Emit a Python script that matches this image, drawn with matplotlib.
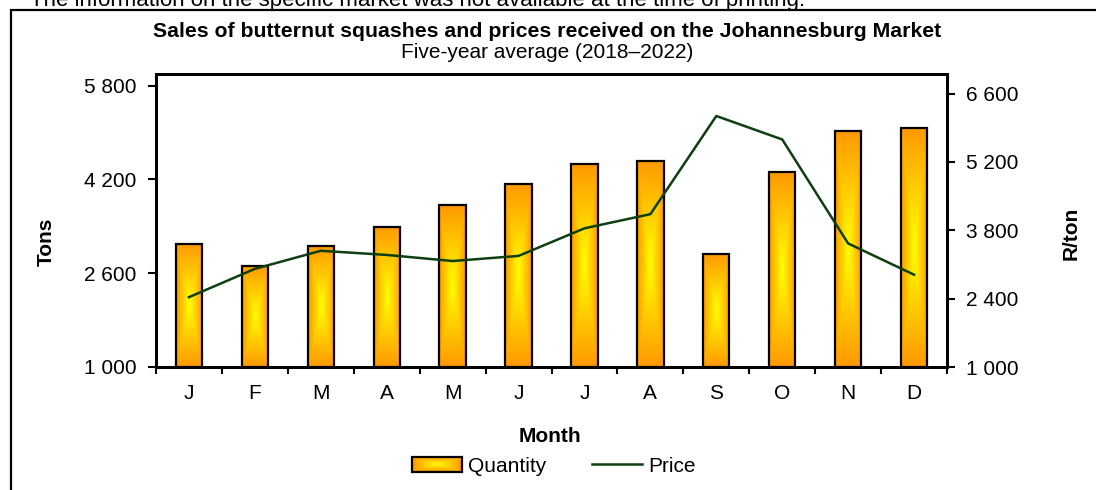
import matplotlib
matplotlib.use('Agg')
import matplotlib.pyplot as plt
import matplotlib.patches as mpatches
from matplotlib.lines import Line2D
from matplotlib.legend_handler import HandlerBase
from matplotlib.ticker import FuncFormatter
import numpy as np

plt.rcParams['font.family'] = ['Liberation Sans', 'DejaVu Sans']

months   = ['J', 'F', 'M', 'A', 'M', 'J', 'J', 'A', 'S', 'O', 'N', 'D']
quantity = [3100, 2730, 3070, 3390, 3760, 4130, 4460, 4520, 2920, 4330, 5030, 5080]
price    = [2430, 3010, 3380, 3295, 3170, 3275, 3840, 4130, 6140, 5660, 3530, 2890]

ORANGE = np.array([1.0, 0.60, 0.0])
YELLOW = np.array([1.0, 1.0, 0.0])
LINE_C = '#0E3F10'
FS = 15


def fmt_space(v, pos):
    return f'{int(round(v)):,}'.replace(',', ' ')


class GradientHandler(HandlerBase):
    # fake the "from centre" fill of the bars inside the legend key
    def create_artists(self, legend, orig_handle, xdescent, ydescent,
                       width, height, fontsize, trans):
        arts = []
        n = 14
        for k in range(n):
            f = k / n
            c = ORANGE * (1 - f) + YELLOW * f
            arts.append(mpatches.Rectangle(
                (-xdescent + f * width / 2, -ydescent + f * height / 2),
                width * (1 - f), height * (1 - f),
                facecolor=c, edgecolor='none', transform=trans))
        arts.append(mpatches.Rectangle((-xdescent, -ydescent), width, height,
                                       facecolor='none', edgecolor='black',
                                       linewidth=1.6, transform=trans))
        return arts


fig = plt.figure(figsize=(10.96, 4.90), dpi=100)
fig.patch.set_facecolor('white')

# outer frame (cut by the page edge) and clipped note line above it
fig.add_artist(mpatches.Rectangle((11 / 1096, -0.05), 1.2, 1 - 9.5 / 490 + 0.05,
                                  transform=fig.transFigure, facecolor='none',
                                  edgecolor='black', linewidth=1.6))
fig.text(805 / 1096, 1 - 6 / 490,
         'The information on the specific market was not available at the time of printing.',
         ha='right', va='baseline', fontsize=16)

ax = fig.add_axes([156 / 1096, 1 - 367 / 490, (947 - 156) / 1096, (367 - 74) / 490])
x = np.arange(len(months))
bw = 0.4

# gradient bars
nu, nv = 40, 80
U, V = np.meshgrid(np.linspace(-1, 1, nu), np.linspace(-1, 1, nv))
T = np.maximum(np.abs(U), np.abs(V))[..., None]
grad = YELLOW * (1 - T) + ORANGE * T
for xi, q in zip(x, quantity):
    ax.imshow(grad, extent=(xi - bw / 2, xi + bw / 2, 1000, q), aspect='auto',
              interpolation='bilinear', zorder=2)
ax.bar(x, np.array(quantity) - 1000, bottom=1000, width=bw, facecolor='none',
       edgecolor='black', linewidth=1.6, zorder=3)

ax.set_xlim(-0.5, len(months) - 0.5)
ax.set_ylim(1000, 6000)
ax.set_yticks(np.arange(1000, 5801, 1600))
ax.yaxis.set_major_formatter(FuncFormatter(fmt_space))
ax.set_xticks(np.arange(-0.5, len(months), 1))
ax.set_xticklabels([])
ax.set_xticks(x, minor=True)
ax.set_xticklabels(months, minor=True)
ax.tick_params(axis='x', which='major', direction='out', length=5, width=1.5)
ax.tick_params(axis='x', which='minor', length=0, pad=12, labelsize=FS)
ax.tick_params(axis='y', direction='out', length=6, width=1.5, pad=8, labelsize=FS)
for sp in ax.spines.values():
    sp.set_linewidth(2)
    sp.set_color('black')

ax.set_xlabel('Month', fontsize=FS, fontweight='bold', va='center')
ax.xaxis.set_label_coords(0.498, (367 - 436) / 293)
ax.set_ylabel('Tons', fontsize=FS, fontweight='bold', va='center')
ax.yaxis.set_label_coords((46 - 156) / 791, (367 - 242) / 293)

ax2 = ax.twinx()
ax2.plot(x, price, color=LINE_C, linewidth=1.8, zorder=4)
ax2.set_ylim(1000, 7000)
ax2.set_yticks(np.arange(1000, 6601, 1400))
ax2.yaxis.set_major_formatter(FuncFormatter(fmt_space))
ax2.tick_params(axis='y', direction='out', length=6, width=1.5, pad=8, labelsize=FS)
for sp in ax2.spines.values():
    sp.set_linewidth(2)
    sp.set_color('black')
ax2.set_ylabel('R/ton', fontsize=FS, fontweight='bold', va='center')
ax2.yaxis.set_label_coords((1071 - 156) / 791, (367 - 233) / 293)

fig.text(547 / 1096, 1 - 37 / 490,
         'Sales of butternut squashes and prices received on the Johannesburg Market',
         ha='center', va='baseline', fontsize=15.3, fontweight='bold')
fig.text(547 / 1096, 1 - 58 / 490, 'Five-year average (2018\u20132022)',
         ha='center', va='baseline', fontsize=FS)

h_bar = mpatches.Rectangle((0, 0), 1, 1)
h_line = Line2D([], [], color=LINE_C, linewidth=1.8)
fig.legend([h_bar, h_line], ['Quantity', 'Price'], loc='center',
           bbox_to_anchor=(554 / 1096, 1 - 466 / 490), ncol=2, frameon=False,
           fontsize=FS, handlelength=2.4, handleheight=0.7, handletextpad=0.3,
           columnspacing=2.2, handler_map={mpatches.Rectangle: GradientHandler()})

fig.savefig('out.png', dpi=100)
